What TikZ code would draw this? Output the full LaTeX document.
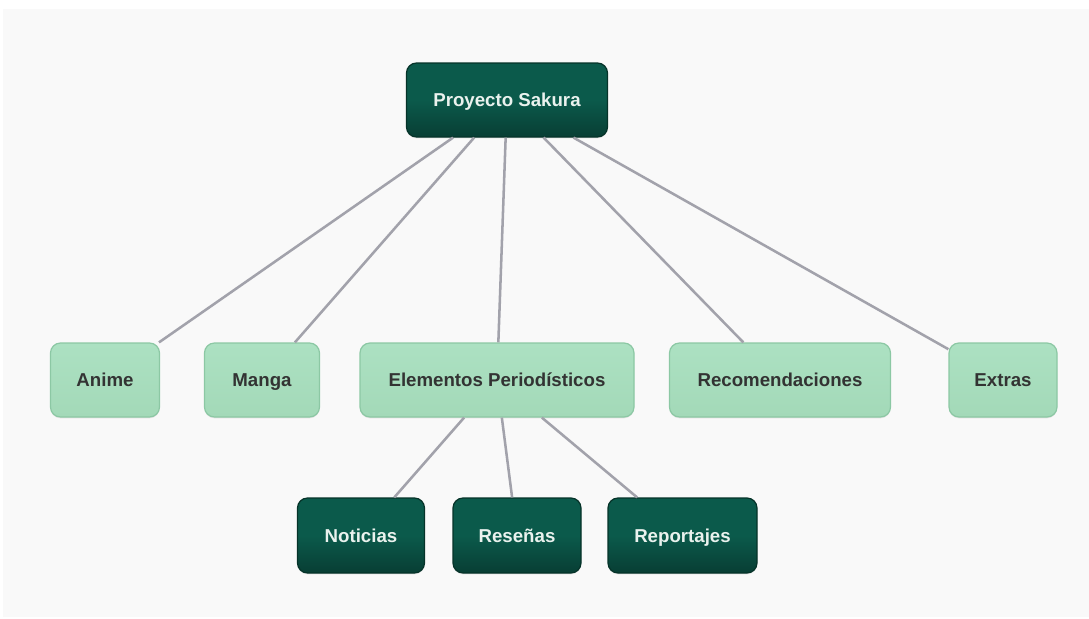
\documentclass[tikz,border=0pt]{standalone}
\usepackage{fontspec}
\setmainfont{Liberation Sans}
\usetikzlibrary{shadows}
\definecolor{panel}{HTML}{F9F9F9}
\definecolor{darkA}{HTML}{0B5A4B}
\definecolor{darkB}{HTML}{083E34}
\definecolor{darkEdge}{HTML}{063329}
\definecolor{lightA}{HTML}{ACE1C2}
\definecolor{lightB}{HTML}{A3D9B8}
\definecolor{lightEdge}{HTML}{8CC8A4}
\definecolor{linkc}{HTML}{A2A2AB}
\definecolor{darktext}{HTML}{EAF2EE}
\definecolor{lighttext}{HTML}{333333}
\tikzset{
  box/.style={rounded corners=7.5pt, minimum height=55.5pt, inner sep=0pt,
    text height=12pt, text depth=2pt,
    font=\fontsize{14}{16}\selectfont\bfseries,
    drop shadow={shadow xshift=0pt, shadow yshift=-1pt, opacity=0.18}},
  darkbox/.style={box, draw=darkEdge, line width=0.9pt, top color=darkA, bottom color=darkB,
    middle color=darkA, text=darktext},
  lightbox/.style={box, draw=lightEdge, line width=0.9pt, top color=lightA, bottom color=lightB,
    text=lighttext},
  link/.style={draw=linkc, line width=1.9pt}
}
\begin{document}
\begin{tikzpicture}[x=0.75pt, y=-0.75pt]
  \useasboundingbox (0,0) rectangle (1089,618);
  \fill[panel] (3,9) rectangle (1089,617);

  % root
  \node[darkbox, minimum width=150.75pt] (root) at (507,100) {Proyecto Sakura};

  % first level
  \node[lightbox, minimum width=81.75pt]  (anime) at (105,380) {Anime};
  \node[lightbox, minimum width=86.25pt]  (manga) at (262,380) {Manga};
  \node[lightbox, minimum width=205.5pt]  (elem)  at (497,380) {Elementos Periodísticos};
  \node[lightbox, minimum width=165.75pt] (recom) at (780,380) {Recomendaciones};
  \node[lightbox, minimum width=81pt]     (extra) at (1003,380) {Extras};

  % second level
  \node[darkbox, minimum width=95.25pt, minimum height=56.25pt]  (noti) at (361,535.5) {Noticias};
  \node[darkbox, minimum width=96pt, minimum height=56.25pt]     (rese) at (517,535.5) {Reseñas};
  \node[darkbox, minimum width=111.75pt, minimum height=56.25pt] (repo) at (682.5,535.5) {Reportajes};

  % connectors, clipped at the box borders
  \foreach \c in {anime,manga,elem,recom,extra}
    \draw[link] (root) -- (\c);
  \foreach \c in {noti,rese,repo}
    \draw[link] (elem) -- (\c);
\end{tikzpicture}
\end{document}
